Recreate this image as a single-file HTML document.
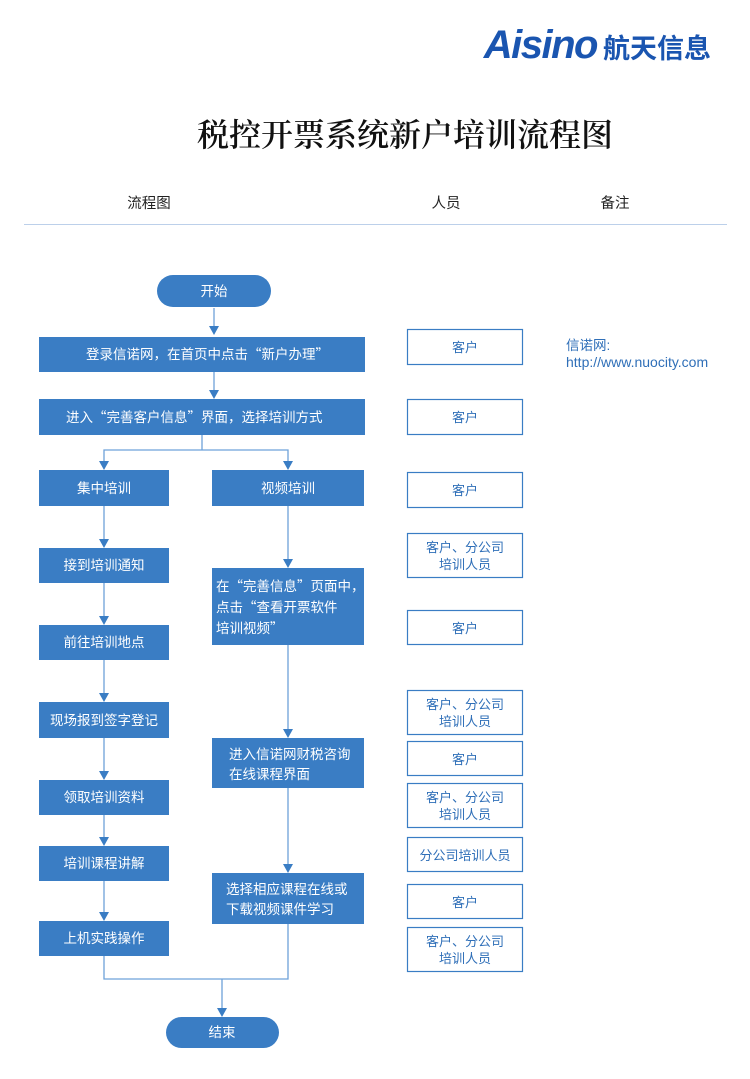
<!DOCTYPE html>
<html><head><meta charset="utf-8"><style>
html,body{margin:0;padding:0;background:#fff;}
svg{display:block;font-family:"Liberation Sans","Noto Sans CJK SC",sans-serif;}
.b{fill:#3a7dc4;}
.t{fill:#fff;font-size:13.5px;}
.q{font-family:"Noto Sans CJK SC",sans-serif;}
.p{fill:#fff;stroke:#3a7dc4;stroke-width:1.2;}
.pt{fill:#2f6fb8;font-size:13px;text-anchor:middle;}
.l{stroke:#6ea2d9;stroke-width:1.3;fill:none;}
.a{fill:#3a7dc4;}
</style></head><body>
<svg width="750" height="1079" viewBox="0 0 750 1079">
<text x="711" y="58" text-anchor="end" font-size="40" font-weight="bold" font-style="italic" fill="#1a55b0" style="letter-spacing:-1.5px">Aisino<tspan font-style="normal" font-size="27" dx="6" style="letter-spacing:0">航天信息</tspan></text>
<text x="405" y="146" text-anchor="middle" font-size="32" font-weight="600" fill="#111" font-family="Noto Serif CJK SC, serif">税控开票系统新户培训流程图</text>
<g font-size="14.5" fill="#222" text-anchor="middle">
<text x="149" y="208">流程图</text><text x="446" y="208">人员</text><text x="615" y="208">备注</text></g>
<line x1="24" y1="224.5" x2="727" y2="224.5" stroke="#bcd0ea" stroke-width="1"/>
<g class="l">
<path d="M214 308V326"/><path d="M214 372V390"/>
<path d="M202 435V450H104V462M202 450H288V462"/>
<path d="M104 506V540M104 583V617M104 660V694M104 738V772M104 815V838M104 881V913M104 956V979H288V924M288 506V560M288 645V730M288 788V865M222 979V1009"/>
</g>
<g class="a">
<path d="M209 326h10l-5 9z"/><path d="M209 390h10l-5 9z"/>
<path d="M99 461h10l-5 9z"/><path d="M283 461h10l-5 9z"/>
<path d="M99 539h10l-5 9z"/><path d="M99 616h10l-5 9z"/><path d="M99 693h10l-5 9z"/><path d="M99 771h10l-5 9z"/><path d="M99 837h10l-5 9z"/><path d="M99 912h10l-5 9z"/>
<path d="M283 559h10l-5 9z"/><path d="M283 729h10l-5 9z"/><path d="M283 864h10l-5 9z"/>
<path d="M217 1008h10l-5 9z"/>
</g>
<rect class="b" x="157" y="275" width="114" height="32" rx="16"/><text class="t" x="214" y="296" text-anchor="middle">开始</text>
<rect class="b" x="39" y="337" width="326" height="35"/><text class="t" x="86" y="359">登录信诺网，在首页中点击<tspan class="q">“</tspan>新户办理<tspan class="q">”</tspan></text>
<rect class="b" x="39" y="399" width="326" height="36"/><text class="t" x="66" y="422">进入<tspan class="q">“</tspan>完善客户信息<tspan class="q">”</tspan>界面，选择培训方式</text>
<g text-anchor="middle">
<rect class="b" x="39" y="470" width="130" height="36"/><text class="t" x="104" y="493">集中培训</text>
<rect class="b" x="212" y="470" width="152" height="36"/><text class="t" x="288" y="493">视频培训</text>
<rect class="b" x="39" y="548" width="130" height="35"/><text class="t" x="104" y="570">接到培训通知</text>
<rect class="b" x="39" y="625" width="130" height="35"/><text class="t" x="104" y="647">前往培训地点</text>
<rect class="b" x="39" y="702" width="130" height="36"/><text class="t" x="104" y="725">现场报到签字登记</text>
<rect class="b" x="39" y="780" width="130" height="35"/><text class="t" x="104" y="802">领取培训资料</text>
<rect class="b" x="39" y="846" width="130" height="35"/><text class="t" x="104" y="868">培训课程讲解</text>
<rect class="b" x="39" y="921" width="130" height="35"/><text class="t" x="104" y="943">上机实践操作</text>
</g>
<rect class="b" x="212" y="568" width="152" height="77"/>
<text class="t" x="216" y="591">在<tspan class="q">“</tspan>完善信息<tspan class="q">”</tspan>页面中，</text>
<text class="t" x="216" y="612">点击<tspan class="q">“</tspan>查看开票软件</text>
<text class="t" x="216" y="633">培训视频<tspan class="q">”</tspan></text>
<rect class="b" x="212" y="738" width="152" height="50"/>
<text class="t" x="229" y="759">进入信诺网财税咨询</text>
<text class="t" x="229" y="779">在线课程界面</text>
<rect class="b" x="212" y="873" width="152" height="51"/>
<text class="t" x="226" y="894">选择相应课程在线或</text>
<text class="t" x="226" y="914">下载视频课件学习</text>
<rect class="b" x="166" y="1017" width="113" height="31" rx="15.5"/><text class="t" x="222" y="1037" text-anchor="middle">结束</text>
<rect class="p" x="407.5" y="329.5" width="115" height="35"/><text class="pt" x="465" y="352">客户</text>
<rect class="p" x="407.5" y="399.5" width="115" height="35"/><text class="pt" x="465" y="422">客户</text>
<rect class="p" x="407.5" y="472.5" width="115" height="35"/><text class="pt" x="465" y="495">客户</text>
<rect class="p" x="407.5" y="533.5" width="115" height="44"/><text class="pt" x="465" y="552">客户、分公司</text><text class="pt" x="465" y="569">培训人员</text>
<rect class="p" x="407.5" y="610.5" width="115" height="34"/><text class="pt" x="465" y="633">客户</text>
<rect class="p" x="407.5" y="690.5" width="115" height="44"/><text class="pt" x="465" y="709">客户、分公司</text><text class="pt" x="465" y="726">培训人员</text>
<rect class="p" x="407.5" y="741.5" width="115" height="34"/><text class="pt" x="465" y="764">客户</text>
<rect class="p" x="407.5" y="783.5" width="115" height="44"/><text class="pt" x="465" y="802">客户、分公司</text><text class="pt" x="465" y="819">培训人员</text>
<rect class="p" x="407.5" y="837.5" width="115" height="34"/><text class="pt" x="465" y="860">分公司培训人员</text>
<rect class="p" x="407.5" y="884.5" width="115" height="34"/><text class="pt" x="465" y="907">客户</text>
<rect class="p" x="407.5" y="927.5" width="115" height="44"/><text class="pt" x="465" y="946">客户、分公司</text><text class="pt" x="465" y="963">培训人员</text>
<text x="566" y="350" font-size="13.5" fill="#2f6fb8">信诺网:</text>
<text x="566" y="367" font-size="14" fill="#2f6fb8">http://www.nuocity.com</text>
</svg>
</body></html>
